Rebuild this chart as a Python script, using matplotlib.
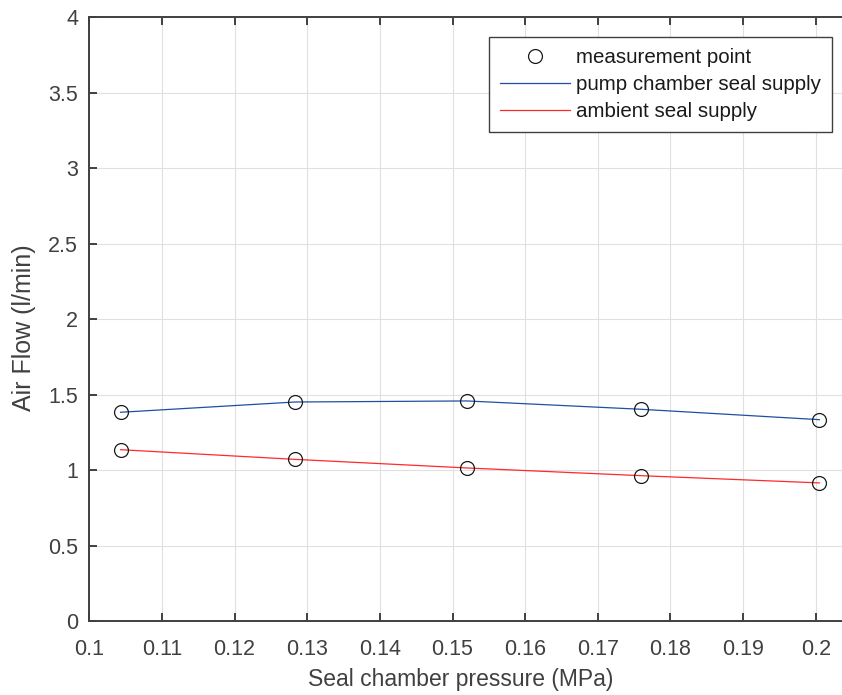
import matplotlib.pyplot as plt
import numpy as np

plt.rcParams['font.family'] = ['Liberation Sans', 'DejaVu Sans']

# Measurement data
pressure = [0.1043, 0.1283, 0.1520, 0.1759, 0.2005]        # MPa
flow_pump = [1.383, 1.451, 1.458, 1.403, 1.334]            # l/min
flow_ambient = [1.135, 1.071, 1.014, 0.963, 0.915]         # l/min

x_ticks = np.round(np.arange(0.1, 0.2001, 0.01), 2)
y_ticks = np.arange(0, 4.01, 0.5)
x_tick_labels = ['0.1', '0.11', '0.12', '0.13', '0.14', '0.15', '0.16', '0.17', '0.18', '0.19', '0.2']
y_tick_labels = ['0', '0.5', '1', '1.5', '2', '2.5', '3', '3.5', '4']

dark = '#404040'
blue = '#1f4fa3'
red = '#ff2a2a'

fig = plt.figure(figsize=(8.42, 6.95), dpi=100)
ax = fig.add_axes([89.3 / 842, 1 - 621 / 695, (848.4 - 89.3) / 842, (621 - 17.3) / 695])

line_pump, = ax.plot(pressure, flow_pump, color=blue, lw=0.9, label='pump chamber seal supply')
line_amb, = ax.plot(pressure, flow_ambient, color=red, lw=0.9, label='ambient seal supply')
pts, = ax.plot(pressure, flow_pump, 'o', ms=10, mfc='none', mec='#1a1a1a', mew=0.9,
               label='measurement point')
ax.plot(pressure, flow_ambient, 'o', ms=10, mfc='none', mec='#1a1a1a', mew=0.9)

ax.set_xlim(0.1, 0.2045)
ax.set_ylim(0, 4)
ax.set_xticks(x_ticks)
ax.set_xticklabels(x_tick_labels)
ax.set_yticks(y_ticks)
ax.set_yticklabels(y_tick_labels)

ax.grid(True, color='#e0e0e0', lw=0.8)
ax.set_axisbelow(True)
for side in ['left', 'bottom', 'top']:
    ax.spines[side].set_color(dark)
    ax.spines[side].set_linewidth(1.4)
ax.spines['right'].set_visible(False)
ax.tick_params(direction='in', length=5.5, width=1.4, color=dark, labelcolor=dark,
               labelsize=15.5, top=True)
ax.tick_params(axis='x', pad=13)
ax.tick_params(axis='y', pad=8)

ax.set_xlabel('Seal chamber pressure (MPa)', fontsize=16.5, color=dark, labelpad=6)
ax.set_ylabel('Air Flow (l/min)', fontsize=18, color=dark, labelpad=9)
# labels sit slightly off-centre in the original
ax.xaxis.label.set_x(0.4897)
ax.yaxis.label.set_y(0.4853)

leg = ax.legend(handles=[pts, line_pump, line_amb], loc='upper right',
                bbox_to_anchor=(832 / 842, 1 - 37 / 695), bbox_transform=fig.transFigure,
                borderaxespad=0, fancybox=False, framealpha=1, edgecolor=dark,
                fontsize=14.8, handlelength=3.4, handletextpad=0.3, labelspacing=0.39,
                borderpad=0.54)
leg.get_frame().set_linewidth(1.0)
for t in leg.get_texts():
    t.set_color('#1a1a1a')

fig.savefig('out.png', dpi=100)
